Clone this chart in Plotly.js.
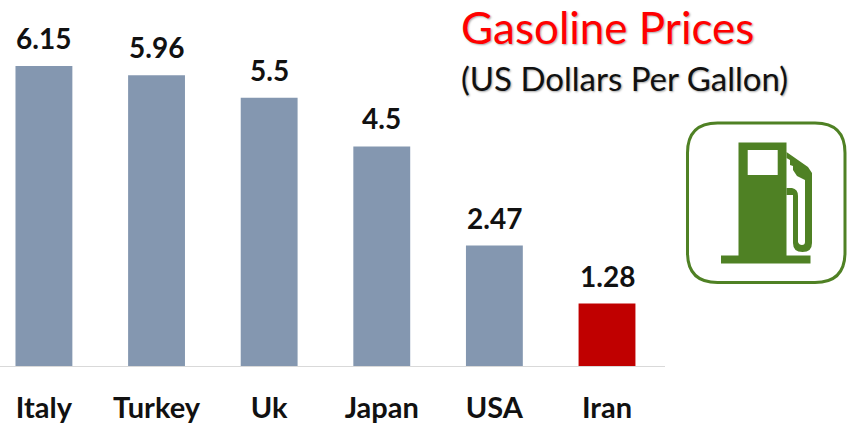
<!DOCTYPE html>
<html><head><meta charset="utf-8"><script src="https://cdn.plot.ly/plotly-3.0.1.min.js"></script>
<style>html,body{margin:0;background:#fff}</style></head><body><div id="c" style="width:848px;height:425px"></div>
<script>
const categories=["Italy","Turkey","Uk","Japan","USA","Iran"];
const values=[6.15,5.96,5.5,4.5,2.47,1.28];
const labels=["6.15","5.96","5.5","4.5","2.47","1.28"];
const barColors=["#8497B0","#8497B0","#8497B0","#8497B0","#8497B0","#C00000"];
const F="Lato, sans-serif";
const G="#4F8124";
const W=848,H=425;
// icon outline drawn in page pixels, converted to paper fractions
const P=(x,y)=>(x/W).toFixed(5)+","+(1-y/H).toFixed(5);
const path=(cmds)=>cmds.map(c=>c[0]+c.slice(1).reduce((s,v,i,a)=>i%2?s:s.concat(P(a[i],a[i+1])),[]).join(" ")).join(" ")+" Z";
const r=30,x0=687.5,x1=845,y0=123,y1=282.5;
const frame=path([["M",x0+r,y0],["L",x1-r,y0],["Q",x1,y0,x1,y0+r],["L",x1,y1-r],["Q",x1,y1,x1-r,y1],["L",x0+r,y1],["Q",x0,y1,x0,y1-r],["L",x0,y0+r],["Q",x0,y0,x0+r,y0]]);
const body=path([["M",738.5,142.5],["L",786.5,142.5],["L",786.5,255.5],["L",810.5,255.5],["L",810.5,263.5],["L",721,263.5],["L",721,255.5],["L",738.5,255.5]]);
const win=path([["M",747.7,150],["L",777.7,150],["L",777.7,175],["L",747.7,175]]);
const hose=path([["M",786.5,152],["L",808,167],["L",812,173],["L",812,243],["Q",812,252,802.5,252],["Q",793,252,793,243],["L",793,195],["L",786.5,195],["L",786.5,188],["L",792,188],["Q",798,189,798,196],["L",798,242],["Q",799,245,802,245],["Q",805,245,805,242],["L",805,180],["L",797,176],["L",793,170],["L",793,166],["L",790,165],["L",790,160],["L",786.5,158]]);
const shade="1px 1px 2px rgba(0,0,0,0.35)";
const valueNotes=categories.map((c,i)=>({x:c,y:values[i],xref:"x",yref:"y",text:"<b>"+labels[i]+"</b>",showarrow:false,yshift:28,font:{family:F,size:28,color:"#111"}}));
Plotly.newPlot("c",[{type:"bar",x:categories,y:values,marker:{color:barColors},width:0.505,hoverinfo:"skip"}],
{width:W,height:H,margin:{l:0,r:0,t:0,b:0},paper_bgcolor:"#fff",plot_bgcolor:"#fff",showlegend:false,
 xaxis:{domain:[0,665/W],range:[-0.39,5.515],ticks:"",showline:true,linecolor:"#D9D9D9",linewidth:1,ticklabelstandoff:16,tickfont:{family:F,size:29,color:"#111",weight:700},anchor:"y",automargin:false},
 yaxis:{domain:[1-366/H,1-66/H],range:[0,6.15],visible:false},
 annotations:valueNotes.concat([
 {xref:"paper",yref:"paper",x:607/W,y:1-27/H,xanchor:"center",yanchor:"middle",text:"Gasoline Prices",showarrow:false,font:{family:F,size:44,color:"#FF0000",shadow:shade}},
 {xref:"paper",yref:"paper",x:624/W,y:1-78/H,xanchor:"center",yanchor:"middle",text:"(US Dollars Per Gallon)",showarrow:false,font:{family:F,size:33,color:"#111",shadow:shade}}
 ]),
 shapes:[
 {type:"path",xref:"paper",yref:"paper",path:frame,line:{color:G,width:3},fillcolor:"rgba(0,0,0,0)"},
 {type:"path",xref:"paper",yref:"paper",path:body,line:{width:0},fillcolor:G},
 {type:"path",xref:"paper",yref:"paper",path:win,line:{width:0},fillcolor:"#fff"},
 {type:"path",xref:"paper",yref:"paper",path:hose,line:{width:0},fillcolor:G}
 ]},{staticPlot:true});
</script></body></html>
